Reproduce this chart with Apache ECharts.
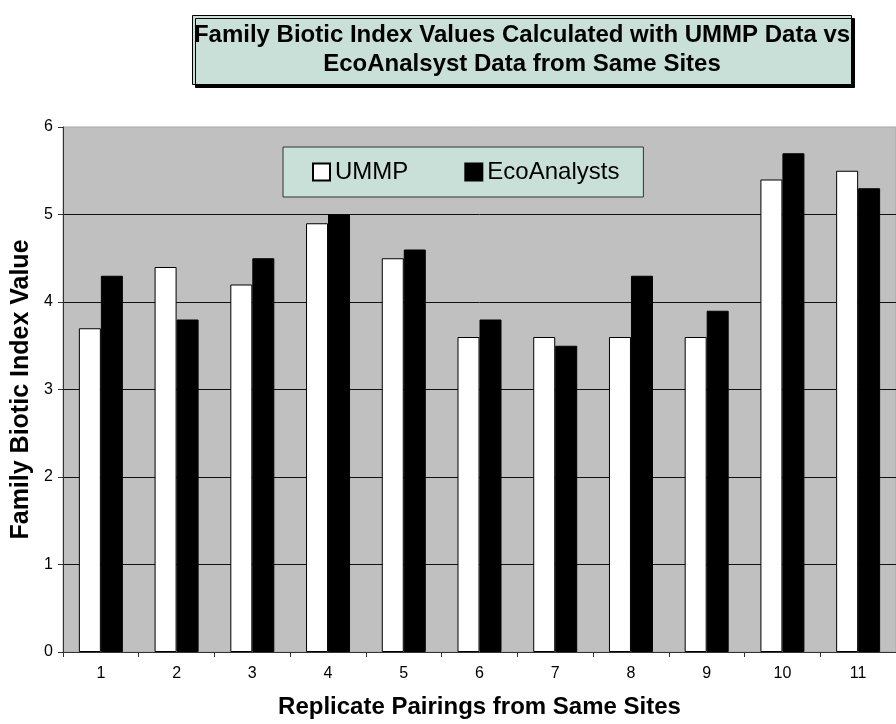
<!DOCTYPE html>
<html>
<head>
<meta charset="utf-8">
<script src="https://cdn.jsdelivr.net/npm/echarts@6/dist/echarts.min.js"></script>
<style>
html,body{margin:0;padding:0;background:#fff;}
#chart{width:896px;height:724px;}
</style>
</head>
<body>
<div id="chart"></div>
<script>
var categories = ['1','2','3','4','5','6','7','8','9','10','11'];
var ummpValues = [3.7, 4.4, 4.2, 4.9, 4.5, 3.6, 3.6, 3.6, 3.6, 5.4, 5.5];
var ecoValues  = [4.3, 3.8, 4.5, 5.0, 4.6, 3.8, 3.5, 4.3, 3.9, 5.7, 5.3];
var seriesNames = ['UMMP', 'EcoAnalysts'];
var titleLines = ['Family Biotic Index Values Calculated with UMMP Data vs', 'EcoAnalsyst Data from Same Sites'];
var yAxisTitle = 'Family Biotic Index Value';
var xAxisTitle = 'Replicate Pairings from Same Sites';

var FONT = '"Liberation Sans", Arial, sans-serif';
var chart = echarts.init(document.getElementById('chart'), null, {renderer: 'canvas'});
chart.setOption({
  backgroundColor: '#ffffff',
  animation: false,
  title: {
    text: titleLines.join('\n'),
    left: 520,
    top: 15,
    textAlign: 'center',
    padding: [6, 2, 6, 2],
    backgroundColor: '#C9E0D8',
    borderColor: '#000',
    borderWidth: 1,
    shadowColor: '#000',
    shadowBlur: 0,
    shadowOffsetX: 3,
    shadowOffsetY: 3,
    textStyle: {fontFamily: FONT, fontSize: 24, fontWeight: 'bold', color: '#000', lineHeight: 29}
  },
  legend: {
    data: seriesNames,
    left: 283,
    top: 147,
    orient: 'horizontal',
    icon: 'rect',
    itemWidth: 17,
    itemHeight: 17,
    itemGap: 56,
    backgroundColor: '#C9E0D8',
    borderColor: '#333',
    borderWidth: 1,
    padding: [13, 24, 13, 29],
    textStyle: {fontFamily: FONT, fontSize: 24, color: '#000'}
  },
  grid: {
    left: 63, top: 127, width: 841, height: 527,
    show: true,
    backgroundColor: '#C0C0C0',
    borderColor: '#A8A8A8',
    borderWidth: 1,
    containLabel: false
  },
  xAxis: {
    type: 'category',
    data: categories,
    name: xAxisTitle,
    nameLocation: 'middle',
    nameGap: 43,
    nameTextStyle: {fontFamily: FONT, fontSize: 24, fontWeight: 'bold', color: '#000'},
    axisLine: {show: true, lineStyle: {color: '#333', width: 1}},
    axisTick: {show: true, length: 5, lineStyle: {color: '#333'}},
    axisLabel: {fontFamily: FONT, fontSize: 16, color: '#000', margin: 14}
  },
  yAxis: {
    type: 'value',
    min: 0, max: 6, interval: 1,
    name: yAxisTitle,
    nameLocation: 'middle',
    nameGap: 26,
    nameRotate: 90,
    nameTextStyle: {fontFamily: FONT, fontSize: 25, fontWeight: 'bold', color: '#000'},
    axisLine: {show: true, lineStyle: {color: '#333', width: 1}},
    axisTick: {show: true, length: 5, lineStyle: {color: '#333'}},
    axisLabel: {fontFamily: FONT, fontSize: 16, color: '#000', margin: 10},
    splitLine: {show: true, showMaxLine: false, lineStyle: {color: '#111', width: 1}}
  },
  series: [
    {
      name: seriesNames[0], type: 'bar', data: ummpValues,
      barWidth: 22, barGap: '0%',
      itemStyle: {color: '#ffffff', borderColor: '#000', borderWidth: 1}
    },
    {
      name: seriesNames[1], type: 'bar', data: ecoValues,
      barWidth: 22, barGap: '0%',
      itemStyle: {color: '#000000', borderColor: '#000', borderWidth: 1}
    }
  ]
});
</script>
</body>
</html>
